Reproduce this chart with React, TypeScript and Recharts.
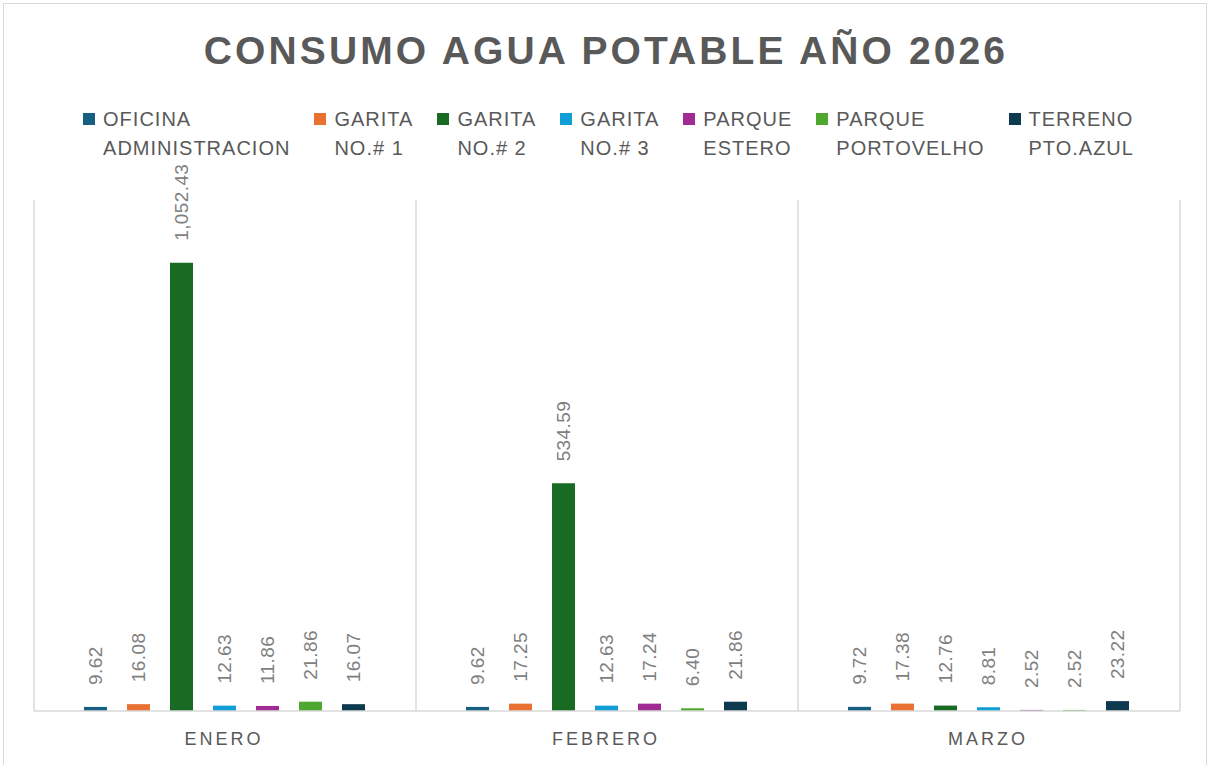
import React from "react";
import { BarChart, Bar, XAxis, YAxis, CartesianGrid, LabelList } from "recharts";

const TITLE = "CONSUMO AGUA POTABLE AÑO 2026";
const categories = ["ENERO", "FEBRERO", "MARZO"];
const seriesNames = [
  ["OFICINA", "ADMINISTRACION"],
  ["GARITA", "NO.# 1"],
  ["GARITA", "NO.# 2"],
  ["GARITA", "NO.# 3"],
  ["PARQUE", "ESTERO"],
  ["PARQUE", "PORTOVELHO"],
  ["TERRENO", "PTO.AZUL"],
];
const seriesColors = ["#156082", "#E97132", "#196B24", "#0F9ED5", "#A02B93", "#4EA72E", "#0D3A4E"];
const oficina = [9.62, 9.62, 9.72];
const garita1 = [16.08, 17.25, 17.38];
const garita2 = [1052.43, 534.59, 12.76];
const garita3 = [12.63, 12.63, 8.81];
const parqueEstero = [11.86, 17.24, 2.52];
const parquePortovelho = [21.86, 6.4, 2.52];
const terreno = [16.07, 21.86, 23.22];
const seriesValues = [oficina, garita1, garita2, garita3, parqueEstero, parquePortovelho, terreno];
const yDomain = [0, 1200];

const data = categories.map((c, i) => {
  const row: any = { name: c };
  seriesValues.forEach((vals, s) => {
    row["s" + s] = vals[i];
  });
  return row;
});

const fmt = (v: number) =>
  Number(v).toLocaleString("en-US", { minimumFractionDigits: 2, maximumFractionDigits: 2 });

const ValueLabel = (props: any) => {
  const x = Number(props.x);
  const y = Number(props.y);
  const w = Number(props.width);
  const cx = x + w / 2;
  const ty = y - 22;
  return (
    <text
      x={cx}
      y={ty}
      transform={`rotate(-90 ${cx} ${ty})`}
      textAnchor="start"
      dy="0.35em"
      fill="#7f7f7f"
      fontSize={19}
      letterSpacing={0.4}
      fontFamily="'Liberation Sans', Arial, sans-serif"
    >
      {fmt(props.value)}
    </text>
  );
};

const CatTick = (props: any) => {
  const { x, y, payload } = props;
  return (
    <text
      x={Number(x) - 1}
      y={Number(y)}
      textAnchor="middle"
      fill="#595959"
      fontSize={18}
      letterSpacing={3}
      fontFamily="'Liberation Sans', Arial, sans-serif"
    >
      {payload.value}
    </text>
  );
};

export default function App() {
  const font = "'Liberation Sans', Arial, sans-serif";
  return (
    <div style={{ position: "absolute", left: 0, top: 0, width: 1209, height: 765, background: "#fff", overflow: "hidden", fontFamily: font }}>
      <div style={{ position: "absolute", left: 3, top: 3, width: 1202, height: 780, border: "1px solid #d9d9d9" }} />
      <div
        style={{
          position: "absolute",
          left: 0,
          top: 31,
          width: 1209,
          textAlign: "center",
          fontSize: 39,
          lineHeight: "39px",
          fontWeight: 700,
          color: "#595959",
          letterSpacing: 3.1,
          paddingLeft: 3,
          boxSizing: "border-box",
        }}
      >
        {TITLE}
      </div>
      <div
        style={{
          position: "absolute",
          left: 0,
          top: 105,
          width: 1209,
          display: "flex",
          justifyContent: "center",
          gap: 24,
          paddingLeft: 8,
          boxSizing: "border-box",
        }}
      >
        {seriesNames.map((lines, i) => (
          <div key={i} style={{ display: "flex", alignItems: "flex-start" }}>
            <div style={{ width: 12, height: 12, background: seriesColors[i], marginTop: 8, marginRight: 8 }} />
            <div style={{ fontSize: 20, lineHeight: "29px", color: "#595959", letterSpacing: 1.0 }}>
              <div>{lines[0]}</div>
              <div>{lines[1]}</div>
            </div>
          </div>
        ))}
      </div>
      <div style={{ position: "absolute", left: 0, top: 0 }}>
        <BarChart
          width={1209}
          height={765}
          data={data}
          margin={{ top: 200, right: 29, left: 34, bottom: 0 }}
          barCategoryGap={50}
          barGap={20}
        >
          <CartesianGrid
            horizontal={false}
            vertical={true}
            stroke="#d9d9d9"
            strokeWidth={1.5}
            verticalCoordinatesGenerator={({ offset }: any) =>
              [0, 1, 2, 3].map((i) => offset.left + (i * offset.width) / categories.length)
            }
          />
          <XAxis
            dataKey="name"
            height={54}
            axisLine={{ stroke: "#d9d9d9", strokeWidth: 1.5 }}
            tickLine={false}
            tick={<CatTick />}
            tickSize={0}
            tickMargin={34}
            interval={0}
          />
          <YAxis hide domain={yDomain} type="number" />
          {seriesNames.map((_, i) => (
            <Bar key={i} dataKey={"s" + i} fill={seriesColors[i]} isAnimationActive={false}>
              <LabelList dataKey={"s" + i} content={<ValueLabel />} />
            </Bar>
          ))}
        </BarChart>
      </div>
    </div>
  );
}
